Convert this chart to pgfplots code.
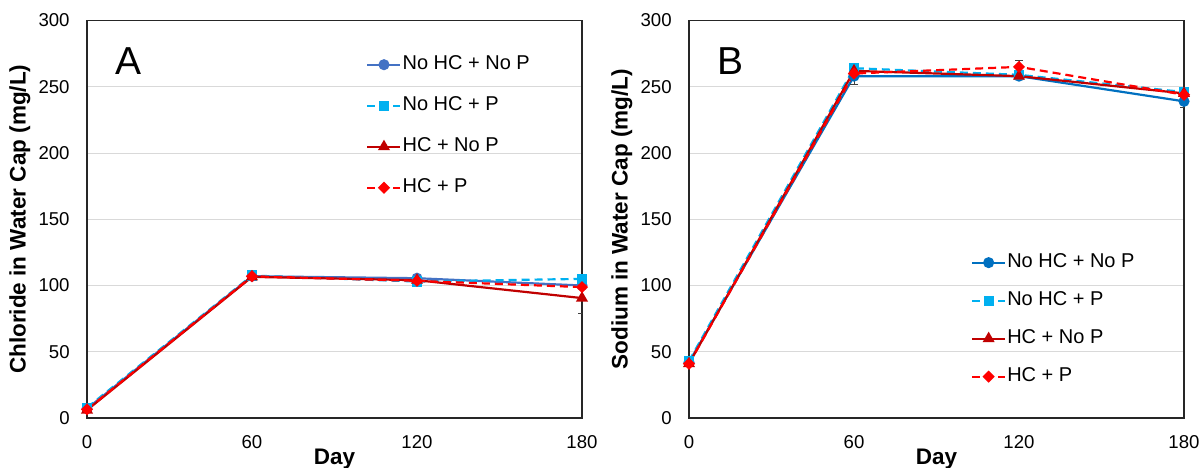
\documentclass[border=0pt]{standalone}
\usepackage{fontspec}
\setmainfont{Liberation Sans}
\usepackage{pgfplots}
\pgfplotsset{compat=1.18}

\definecolor{blueA}{HTML}{4472C4}
\definecolor{blueB}{HTML}{0070C0}
\definecolor{lblue}{HTML}{00B0F0}
\definecolor{dred}{HTML}{C00000}
\definecolor{bred}{HTML}{FF0000}
\definecolor{gridc}{HTML}{D9D9D9}

\pgfplotsset{
  panel/.style={
    scale only axis,
    width=247.5pt, height=198.75pt,
    xmin=0, xmax=180, ymin=0, ymax=300,
    xtick={0,60,120,180}, ytick={0,50,...,300},
    major tick length=0pt,
    ymajorgrids=true,
    grid style={gridc, line width=0.5pt},
    axis line style={black!85, line width=0.6pt},
    /pgf/number format/assume math mode=true,
    ticklabel style={font=\fontsize{9.3}{10}\selectfont, inner sep=0pt},
    yticklabel style={xshift=-8.5pt},
    xticklabel style={yshift=-8.5pt},
    xlabel={Day},
    xlabel style={at={(axis description cs:0.5,0)}, anchor=base, yshift=-23pt,
      font=\fontsize{11.25}{12}\selectfont\bfseries},
    ylabel style={at={(axis description cs:-0.1354,0.5)}, anchor=center,
      font=\fontsize{11.25}{12}\selectfont\bfseries},
    legend cell align=left,
    legend image code/.code={\draw[mark repeat=2,mark phase=2,#1]
      plot coordinates {(0pt,0pt) (8.25pt,0pt) (16.5pt,0pt)};},
    legend style={draw=none, fill=none, inner sep=0pt, column sep=0.5pt,
      anchor=north west,
      nodes={inner sep=0pt, text height=7.5pt, text depth=2.5pt,
        font=\fontsize{10}{11}\selectfont}},
    every axis plot/.append style={line width=1.1pt},
    error bars/error bar style={black!75, line width=0.5pt, solid},
    error bars/error mark options={rotate=90, mark size=2pt, black!75, line width=0.5pt},
  },
  s1/.style={mark=*, mark size=2.2pt, mark options={solid}},
  s2/.style={lblue, dash pattern=on 4pt off 2.5pt, mark=square*, mark size=2pt, mark options={solid}},
  s3/.style={dred, mark=triangle*, mark size=2.4pt, mark options={solid}},
  s4/.style={bred, dash pattern=on 4pt off 2.5pt, mark=square*, mark size=1.6pt, mark options={solid, rotate=45}},
}

\begin{document}
\begin{tikzpicture}
\useasboundingbox (-43.5pt,-24.5pt) rectangle (557pt,209pt);

\begin{axis}[panel, at={(0pt,0pt)}, anchor=south west,
  ylabel={Chloride in Water Cap (mg/L)},
  legend style={at={(0.5636,0.915)}, row sep=10.5pt}]
\addplot[s1, blueA] coordinates {(0,7) (60,107) (120,105.5) (180,100)};
\addlegendentry{No HC + No P}
\addplot[s2] coordinates {(0,7.8) (60,107.5) (120,103) (180,105)};
\addlegendentry{No HC + P}
\addplot[s3, error bars/.cd, y dir=both, y explicit] coordinates {
  (0,6) +- (0,1)
  (60,106.5) +- (0,1)
  (120,104) +- (0,1)
  (180,90.5) +- (0,12)};
\addlegendentry{HC + No P}
\addplot[s4] coordinates {(0,6.5) (60,107) (120,103.5) (180,98.8)};
\addlegendentry{HC + P}
\node[anchor=base west, inner sep=0pt, font=\fontsize{19.5}{20}\selectfont]
  at (axis cs:10.2,259.6) {A};
\end{axis}

\begin{axis}[panel, at={(301pt,0pt)}, anchor=south west,
  ylabel={Sodium in Water Cap (mg/L)},
  legend style={at={(0.569,0.417)}, row sep=9pt}]
\addplot[s1, blueB, error bars/.cd, y dir=both, y explicit] coordinates {
  (0,42) +- (0,1)
  (60,258) +- (0,6)
  (120,258) +- (0,1)
  (180,239) +- (0,4.5)};
\addlegendentry{No HC + No P}
\addplot[s2, error bars/.cd, y dir=both, y explicit] coordinates {
  (0,43) +- (0,1)
  (60,264) +- (0,1)
  (120,259) +- (0,1)
  (180,246) +- (0,3)};
\addlegendentry{No HC + P}
\addplot[s3] coordinates {(0,41) (60,262) (120,258) (180,245)};
\addlegendentry{HC + No P}
\addplot[s4, error bars/.cd, y dir=both, y explicit] coordinates {
  (0,41) +- (0,1)
  (60,260) +- (0,2)
  (120,265) +- (0,4.5)
  (180,244) +- (0,2)};
\addlegendentry{HC + P}
\node[anchor=base west, inner sep=0pt, font=\fontsize{19.5}{20}\selectfont]
  at (axis cs:10.2,259.6) {B};
\end{axis}
\end{tikzpicture}
\end{document}
